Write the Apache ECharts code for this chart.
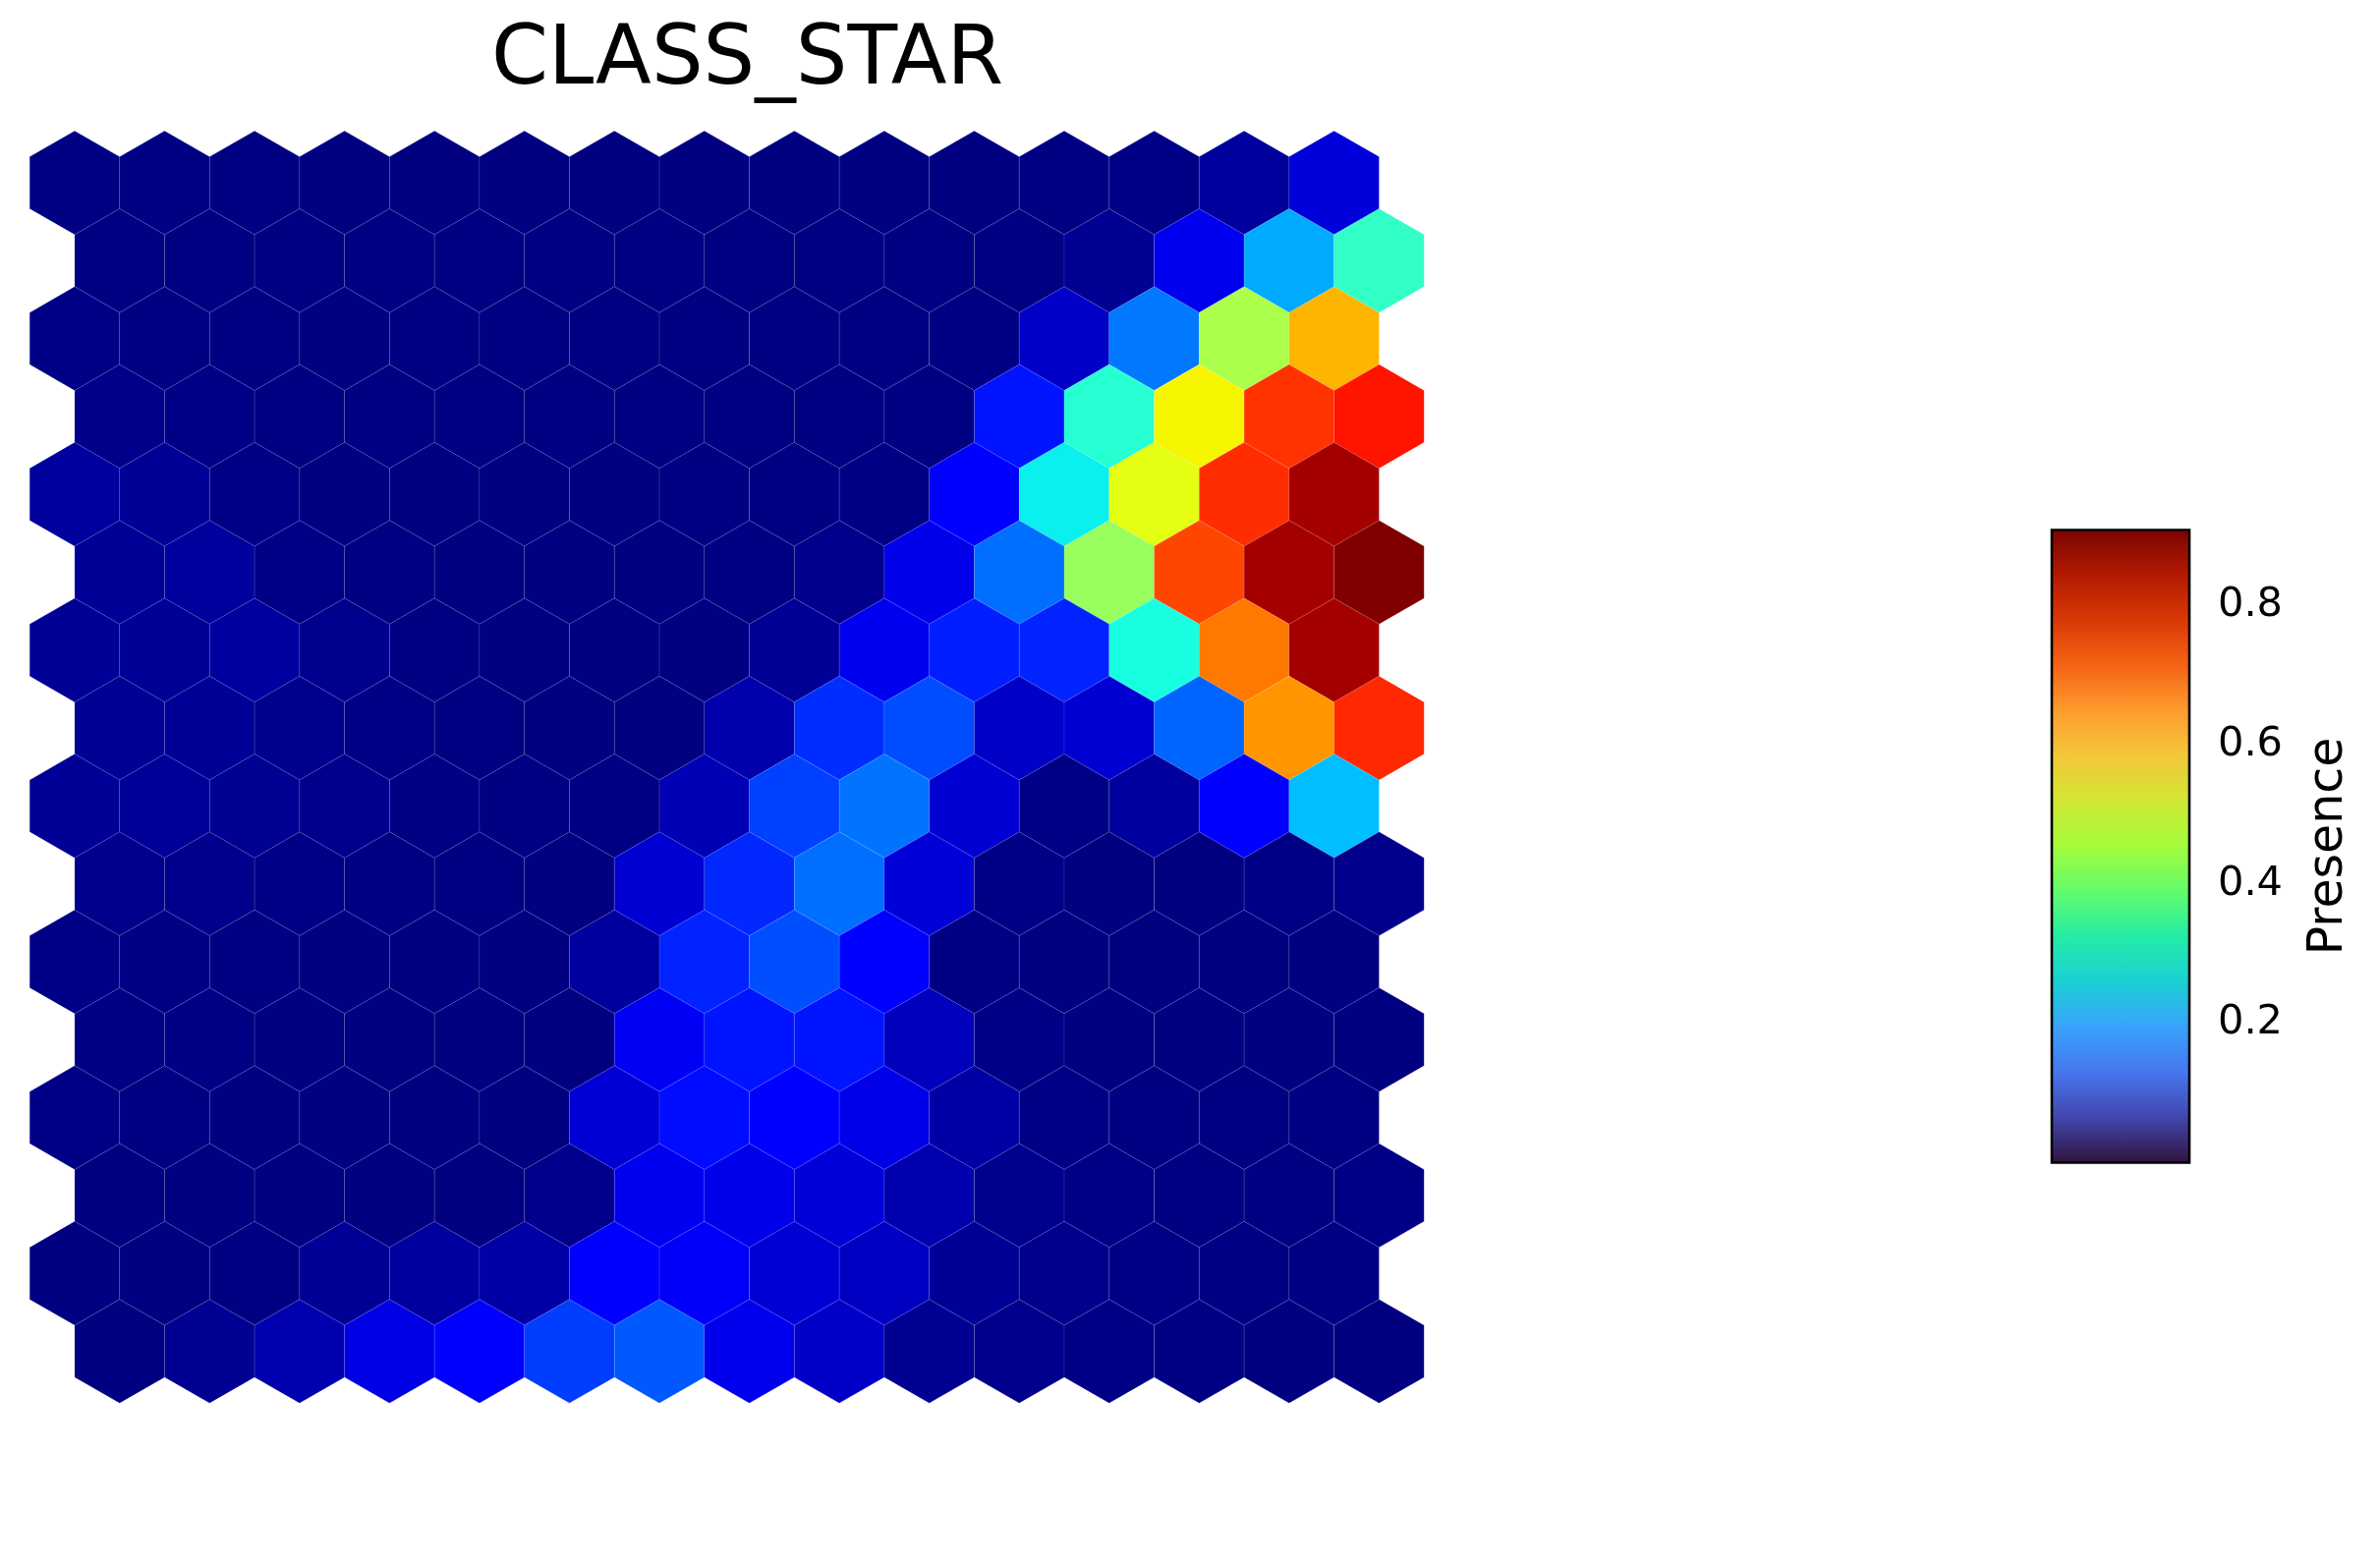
<!DOCTYPE html>
<html>
<head>
<meta charset="utf-8">
<script src="https://cdn.jsdelivr.net/npm/echarts@6/dist/echarts.min.js"></script>
<style>
html,body{margin:0;padding:0;background:#fff;}
#chart{width:2422px;height:1589px;}
</style>
</head>
<body>
<div id="chart"></div>
<script>
// ---- data ----
const title = 'CLASS_STAR';
const colorbarLabel = 'Presence';
const nCols = 15;
const nRows = 16;
// Presence per hexagon, rows listed top to bottom, columns left to right
// (odd rows, counted from 0 at the top, are shifted half a cell to the right)
const presence = [
  [0.002,0.002,0.002,0.001,0.001,0.001,0.000,0.001,0.000,0.001,0.001,0.003,0.006,0.022,0.072],
  [0.003,0.003,0.003,0.003,0.002,0.002,0.002,0.002,0.002,0.002,0.003,0.014,0.088,0.265,0.372],
  [0.006,0.003,0.002,0.001,0.002,0.002,0.002,0.002,0.002,0.003,0.004,0.057,0.220,0.508,0.653],
  [0.008,0.006,0.002,0.002,0.002,0.002,0.002,0.002,0.002,0.003,0.131,0.360,0.590,0.778,0.807],
  [0.022,0.018,0.006,0.000,0.000,0.001,0.001,0.002,0.002,0.004,0.106,0.327,0.570,0.783,0.879],
  [0.018,0.022,0.006,0.002,0.001,0.001,0.001,0.002,0.010,0.084,0.212,0.487,0.759,0.879,0.908],
  [0.018,0.018,0.024,0.012,0.002,0.001,0.000,0.001,0.018,0.088,0.140,0.144,0.343,0.711,0.879],
  [0.016,0.018,0.012,0.006,0.002,0.001,0.001,0.035,0.153,0.182,0.055,0.065,0.202,0.682,0.788],
  [0.018,0.019,0.014,0.010,0.004,0.002,0.004,0.041,0.171,0.216,0.065,0.006,0.025,0.106,0.282],
  [0.011,0.010,0.006,0.004,0.002,0.001,0.065,0.149,0.212,0.070,0.006,0.001,0.001,0.006,0.010],
  [0.006,0.004,0.002,0.001,0.001,0.001,0.025,0.144,0.183,0.106,0.004,0.001,0.001,0.001,0.001],
  [0.004,0.004,0.000,0.000,0.000,0.000,0.092,0.131,0.131,0.048,0.005,0.001,0.001,0.001,0.001],
  [0.006,0.002,0.001,0.000,0.000,0.000,0.066,0.124,0.106,0.082,0.029,0.006,0.002,0.002,0.002],
  [0.000,0.000,0.000,0.000,0.000,0.010,0.088,0.084,0.069,0.037,0.012,0.006,0.002,0.002,0.006],
  [0.000,0.000,0.002,0.018,0.025,0.029,0.106,0.096,0.067,0.053,0.018,0.010,0.006,0.004,0.004],
  [0.000,0.014,0.037,0.079,0.106,0.167,0.192,0.085,0.058,0.014,0.010,0.006,0.004,0.000,0.001]
];
const valueMin = 0;
const valueMax = 0.908;
const cbTicks = [0.2, 0.4, 0.6, 0.8];

// ---- colormaps ----
function interpSeg(seg, t) {
  for (let i = 1; i < seg.length; i++) {
    if (t <= seg[i][0]) {
      const a = seg[i - 1], b = seg[i];
      const f = (t - a[0]) / (b[0] - a[0] || 1);
      return a[1] + f * (b[1] - a[1]);
    }
  }
  return seg[seg.length - 1][1];
}
const jetR = [[0,0],[0.35,0],[0.66,1],[0.89,1],[1,0.5]];
const jetG = [[0,0],[0.125,0],[0.375,1],[0.64,1],[0.91,0],[1,0]];
const jetB = [[0,0.5],[0.11,1],[0.34,1],[0.65,0],[1,0]];
const jetColors = [];
for (let i = 0; i < 256; i++) {
  const t = i / 255;
  const r = Math.round(255 * interpSeg(jetR, t));
  const g = Math.round(255 * interpSeg(jetG, t));
  const b = Math.round(255 * interpSeg(jetB, t));
  jetColors.push('rgb(' + r + ',' + g + ',' + b + ')');
}
const turbo = ['#30123b','#4145ab','#4675ed','#39a2fc','#1bcfd4','#24eca6','#61fc6c','#a4fc3b','#d1e834','#f3c63a','#fe9b2d','#f36315','#d93806','#b11901','#7a0402'];

// ---- build hex data ----
const hexData = [];
for (let r = 0; r < nRows; r++) {
  for (let c = 0; c < nCols; c++) {
    hexData.push([c + (r % 2 ? 0.5 : 0), r, presence[r][c]]);
  }
}

const font = 'DejaVu Sans';
const chart = echarts.init(document.getElementById('chart'), null, {renderer: 'canvas'});
chart.setOption({
  backgroundColor: '#ffffff',
  animation: false,
  title: {
    text: title,
    left: 500,
    top: 22,
    padding: 0,
    textStyle: {fontFamily: font, fontSize: 83, fontWeight: 'normal', color: '#000'}
  },
  grid: [
    {left: 30.2, top: 146.35, width: 1419, height: 1268.8, show: false},
    {left: 2088, top: 539.5, width: 140, height: 644, show: false}
  ],
  xAxis: [
    {type: 'value', gridIndex: 0, min: -0.5, max: nCols, show: false},
    {type: 'value', gridIndex: 1, min: 0, max: 1, show: false}
  ],
  yAxis: [
    {type: 'value', gridIndex: 0, min: -0.5, max: nRows - 0.5, inverse: true, show: false},
    {
      type: 'value', gridIndex: 1, min: valueMin, max: valueMax, position: 'right',
      splitLine: {show: false},
      axisLine: {show: false},
      axisTick: {show: true, length: 15, lineStyle: {color: '#000', width: 2.5}, customValues: cbTicks},
      axisLabel: {show: true, fontFamily: font, fontSize: 41.5, color: '#000', margin: 29, customValues: cbTicks,
        formatter: v => v.toFixed(1)},
      name: colorbarLabel,
      nameLocation: 'middle',
      nameRotate: 90,
      nameGap: 118,
      nameTextStyle: {fontFamily: font, fontSize: 49, color: '#000'}
    }
  ],
  visualMap: [{
    type: 'continuous', show: false, seriesIndex: 0, dimension: 2,
    min: valueMin, max: valueMax, inRange: {color: jetColors}
  }],
  series: [
    {
      type: 'custom',
      xAxisIndex: 0, yAxisIndex: 0,
      clip: false,
      data: hexData,
      encode: {x: 0, y: 1},
      renderItem: function (params, api) {
        const p = api.coord([api.value(0), api.value(1)]);
        const s = api.size([1, 1]);
        const w = s[0];
        const R = w / Math.sqrt(3);
        const pts = [
          [p[0], p[1] - R], [p[0] + w / 2, p[1] - R / 2], [p[0] + w / 2, p[1] + R / 2],
          [p[0], p[1] + R], [p[0] - w / 2, p[1] + R / 2], [p[0] - w / 2, p[1] - R / 2]
        ];
        return {
          type: 'polygon',
          shape: {points: pts},
          style: {fill: api.visual('color'), stroke: 'rgba(255,255,255,0.12)', lineWidth: 0.8}
        };
      }
    },
    {
      type: 'custom',
      xAxisIndex: 1, yAxisIndex: 1,
      clip: false,
      data: [[0, 1, valueMin, valueMax]],
      renderItem: function (params, api) {
        const a = api.coord([api.value(0), api.value(2)]);
        const b = api.coord([api.value(1), api.value(3)]);
        const stops = turbo.map((c, i) => ({offset: i / (turbo.length - 1), color: c}));
        return {
          type: 'rect',
          shape: {x: a[0], y: b[1], width: b[0] - a[0], height: a[1] - b[1]},
          style: {
            fill: new echarts.graphic.LinearGradient(0, 1, 0, 0, stops),
            stroke: '#000', lineWidth: 2.6
          }
        };
      }
    }
  ]
});
</script>
</body>
</html>
